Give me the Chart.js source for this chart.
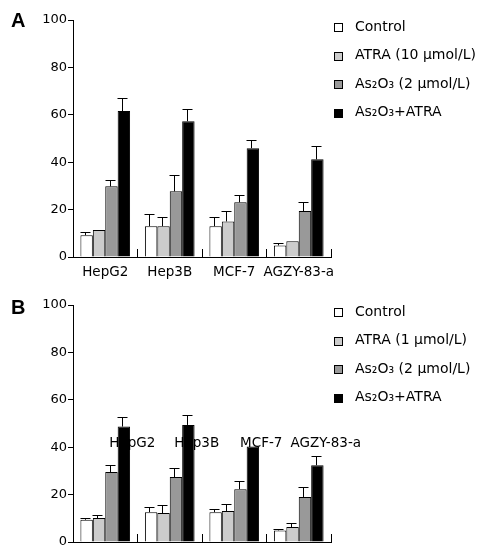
<!DOCTYPE html>
<html>
<head>
<meta charset="utf-8">
<script src="https://cdn.jsdelivr.net/npm/chart.js@4"></script>
<style>
body { margin: 0; background: #fff; width: 484px; height: 556px; position: relative; overflow: hidden; }
.panel { position: absolute; left: 0; }
.tag { position: absolute; left: 11px; font: bold 20px "Liberation Sans", Arial, sans-serif; line-height: 1; color: #000; }
</style>
</head>
<body>
<div class="panel" style="top:0"><canvas id="chartA" width="484" height="285"></canvas></div>
<div class="panel" style="top:285px"><canvas id="chartB" width="484" height="271"></canvas></div>
<span class="tag" style="top:10px">A</span>
<span class="tag" style="top:297px">B</span>
<script>
// categorias y series
const categorias = ['HepG2', 'Hep3B', 'MCF-7', 'AGZY-83-a'];
const seriesA = ['Control', 'ATRA (10 \u00b5mol/L)', 'As\u2082O\u2083 (2 \u00b5mol/L)', 'As\u2082O\u2083+ATRA'];
const seriesB = ['Control', 'ATRA (1 \u00b5mol/L)', 'As\u2082O\u2083 (2 \u00b5mol/L)', 'As\u2082O\u2083+ATRA'];
const colores = ['#ffffff', '#cccccc', '#999999', '#000000'];
const ticksY = [0, 20, 40, 60, 80, 100];

// Panel A: valores y barras de error (solo hacia arriba)
const controlA = [9.2, 13.0, 13.0, 4.9];
const atraA = [11.4, 13.0, 15.0, 6.6];
const as2o3A = [29.8, 27.7, 23.1, 19.4];
const comboA = [61.6, 57.3, 45.9, 41.2];
const errControlA = [1.3, 5.1, 3.7, 0.9];
const errAtraA = [0, 4.0, 4.3, 0];
const errAs2o3A = [2.7, 6.9, 3.2, 3.9];
const errComboA = [5.4, 5.0, 3.3, 5.8];

// Panel B
const controlB = [9.4, 12.6, 12.6, 4.9];
const atraB = [10.1, 12.2, 13.1, 6.3];
const as2o3B = [29.5, 27.4, 22.3, 19.0];
const comboB = [48.7, 49.4, 40.3, 32.4];
const errControlB = [0.7, 2.0, 1.4, 0.6];
const errAtraB = [1.4, 3.5, 2.9, 1.7];
const errAs2o3B = [3.1, 3.8, 3.5, 4.2];
const errComboB = [4.1, 4.3, 0, 4.0];

const fuente = '"DejaVu Sans", Verdana, sans-serif';

// Dibuja las barras de error
const barrasError = {
    id: 'barrasError',
    afterDatasetsDraw(chart) {
        const ctx = chart.ctx;
        const y = chart.scales.y;
        ctx.save();
        ctx.strokeStyle = '#000';
        ctx.lineWidth = 1;
        chart.data.datasets.forEach(function (ds, i) {
            const meta = chart.getDatasetMeta(i);
            meta.data.forEach(function (bar, j) {
                const err = ds.errores[j];
                if (!err) return;
                const cx = Math.round(bar.x - bar.width * 0.15) + 0.5;
                const top = y.getPixelForValue(ds.data[j]);
                const tip = Math.round(y.getPixelForValue(ds.data[j] + err)) + 0.5;
                ctx.beginPath();
                ctx.moveTo(cx, top);
                ctx.lineTo(cx, tip);
                ctx.moveTo(cx - 5, tip);
                ctx.lineTo(cx + 5, tip);
                ctx.stroke();
            });
        });
        ctx.restore();
    }
};

// Leyenda a la derecha
const leyenda = {
    id: 'leyenda',
    afterDraw(chart) {
        const ctx = chart.ctx;
        const area = chart.chartArea;
        ctx.save();
        ctx.font = '14px ' + fuente;
        ctx.textBaseline = 'middle';
        ctx.fillStyle = '#000';
        chart.data.datasets.forEach(function (ds, i) {
            const yy = area.top + 7 + i * 28.5;
            ctx.fillStyle = ds.backgroundColor;
            ctx.fillRect(area.right + 3.5, Math.round(yy - 4) + 0.5, 8, 8);
            ctx.strokeStyle = '#000';
            ctx.strokeRect(area.right + 3.5, Math.round(yy - 4) + 0.5, 8, 8);
            ctx.fillStyle = '#000';
            ctx.fillText(ds.label, area.right + 24, yy);
        });
        ctx.restore();
    }
};

function crearDatasets(nombres, valores, errores) {
    return nombres.map(function (n, i) {
        return {
            label: n,
            data: valores[i],
            errores: errores[i],
            backgroundColor: colores[i],
            borderColor: '#000',
            borderWidth: 1,
            categoryPercentage: 0.77,
            barPercentage: 1.0
        };
    });
}

function opciones(panelB) {
    const escalas = {
        x: {
            offset: true,
            grid: { offset: true, drawOnChartArea: false, tickLength: -8, color: '#000' },
            border: { color: '#000', width: 1 },
            ticks: {
                display: !panelB,
                autoSkip: false, maxRotation: 0, padding: 15,
                color: '#000', font: { family: fuente, size: 13.5 }
            },
            afterFit: function (s) { s.height = panelB ? 14 : 28; }
        },
        y: {
            min: 0, max: 100,
            afterBuildTicks: function (s) { s.ticks = ticksY.map(function (v) { return { value: v }; }); },
            grid: { drawOnChartArea: false, tickLength: 5, color: '#000' },
            border: { color: '#000', width: 1 },
            ticks: { padding: 1, color: '#000', font: { family: fuente, size: 13 } },
            afterFit: function (s) { s.width = 73; }
        }
    };
    if (panelB) {
        // en B las etiquetas de categoria quedan dentro del area
        escalas.x2 = {
            type: 'category',
            position: { y: 45 },
            offset: true,
            grid: { display: false, drawTicks: false },
            border: { display: false },
            ticks: {
                autoSkip: false, maxRotation: 0, padding: 0, labelOffset: 27,
                color: '#000', font: { family: fuente, size: 13.5 }
            }
        };
    }
    return {
        responsive: false,
        animation: false,
        layout: { padding: { top: 20, right: 153, left: 0, bottom: 0 } },
        plugins: { legend: { display: false }, tooltip: { enabled: false } },
        scales: escalas
    };
}

new Chart(document.getElementById('chartA').getContext('2d'), {
    type: 'bar',
    data: {
        labels: categorias,
        datasets: crearDatasets(seriesA, [controlA, atraA, as2o3A, comboA],
            [errControlA, errAtraA, errAs2o3A, errComboA])
    },
    options: opciones(false),
    plugins: [barrasError, leyenda]
});

new Chart(document.getElementById('chartB').getContext('2d'), {
    type: 'bar',
    data: {
        labels: categorias,
        datasets: crearDatasets(seriesB, [controlB, atraB, as2o3B, comboB],
            [errControlB, errAtraB, errAs2o3B, errComboB])
    },
    options: opciones(true),
    plugins: [barrasError, leyenda]
});
</script>
</body>
</html>
